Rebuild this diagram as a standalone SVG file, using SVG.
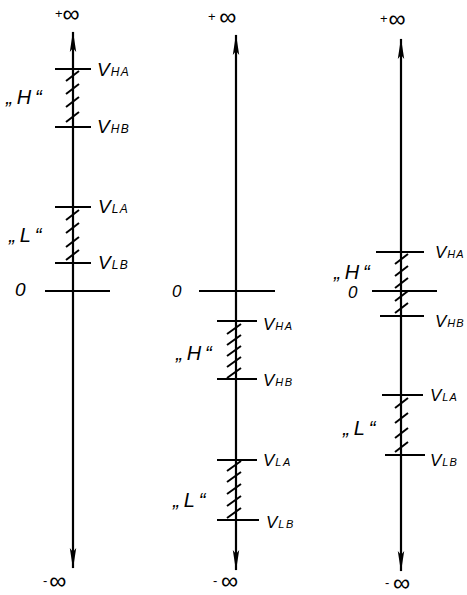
<svg xmlns="http://www.w3.org/2000/svg" width="467" height="595" viewBox="0 0 467 595">
<defs>
<marker id="ah" viewBox="0 0 22 8" refX="20" refY="4" markerWidth="22" markerHeight="8" markerUnits="userSpaceOnUse" orient="auto-start-reverse">
<path d="M0,0.8 L21,4 L0,7.2 L4,4 Z" fill="#000"/>
</marker>
</defs>
<style>
.axis{stroke:#000;stroke-width:2.2;fill:none;marker-start:url(#ah);marker-end:url(#ah)}
.tick{stroke:#000;stroke-width:2;fill:none}
.hatch{stroke:#000;stroke-width:2;fill:none}
text{font-family:"Liberation Sans",Arial,sans-serif;font-style:italic;fill:#000}
.v{font-size:17px}
.vb{font-size:19px}
.sub{font-size:11px;letter-spacing:1.5px}
.subb{font-size:12px;letter-spacing:1.5px}
.subr{font-size:11px;letter-spacing:1px}
.q{font-size:20px;letter-spacing:4px}
.inf{font-size:24px;font-style:normal}
.pl{font-size:13px}
</style>
<rect width="467" height="595" fill="#fff"/>
<g id="connectors">
<line class="axis" x1="73" y1="32" x2="73" y2="568"/>
<line class="axis" x1="236" y1="35" x2="236" y2="570"/>
<line class="axis" x1="401" y1="39" x2="401" y2="571"/>
</g>
<g id="left">
<g id="l-inf-top"><text class="inf" x="55" y="22"><tspan class="pl" dy="-4">+</tspan><tspan dy="4">∞</tspan></text></g>
<g id="l-vha"><line class="tick" x1="55" y1="69" x2="91" y2="69"/><text class="vb" x="97" y="76">V<tspan class="subb" dx="1">HA</tspan></text></g>
<g id="l-vhb"><line class="tick" x1="55" y1="127" x2="91" y2="127"/><text class="vb" x="97" y="133">V<tspan class="subb" dx="1">HB</tspan></text></g>
<g id="l-h"><path class="hatch" d="M66,81 L79,71 M66,94 L79,84 M66,107 L79,97 M66,122 L79,112"/><text class="q" x="6" y="104">„H“</text></g>
<g id="l-vla"><line class="tick" x1="55" y1="207" x2="91" y2="207"/><text class="vb" x="98" y="213">V<tspan class="subb" dx="1">LA</tspan></text></g>
<g id="l-vlb"><line class="tick" x1="55" y1="263" x2="91" y2="263"/><text class="vb" x="98" y="269">V<tspan class="subb" dx="1">LB</tspan></text></g>
<g id="l-l"><path class="hatch" d="M66,220 L79,210 M66,233 L79,223 M66,247 L79,237 M66,260 L79,250"/><text class="q" x="9" y="242">„L“</text></g>
<g id="l-zero"><line class="tick" x1="45" y1="291" x2="110" y2="291" stroke-width="3"/><text class="vb" x="15" y="296">0</text></g>
<g id="l-inf-bot"><text class="inf" x="43" y="589"><tspan class="pl" dy="-4">-</tspan><tspan dx="2" dy="4">∞</tspan></text></g>
</g>
<g id="middle">
<g id="m-inf-top"><text class="inf" x="208" y="25"><tspan class="pl" dy="-4">+ </tspan><tspan dy="4">∞</tspan></text></g>
<g id="m-zero"><line class="tick" x1="199" y1="291" x2="275" y2="291" stroke-width="1.5"/><text class="v" x="172" y="297">0</text></g>
<g id="m-vha"><line class="tick" x1="217" y1="321" x2="257" y2="321"/><text class="v" x="263" y="330">V<tspan class="sub" dx="1">HA</tspan></text></g>
<g id="m-vhb"><line class="tick" x1="217" y1="379" x2="257" y2="379"/><text class="v" x="263" y="386">V<tspan class="sub" dx="1">HB</tspan></text></g>
<g id="m-h"><path class="hatch" d="M227,334 L241,324 M227,345 L241,335 M227,356 L241,346 M227,367 L241,357 M227,378 L241,368"/><text class="q" x="176" y="360">„H“</text></g>
<g id="m-vla"><line class="tick" x1="217" y1="460" x2="257" y2="460"/><text class="v" x="263" y="466">V<tspan class="sub" dx="1">LA</tspan></text></g>
<g id="m-vlb"><line class="tick" x1="217" y1="520" x2="259" y2="520"/><text class="v" x="266" y="528">V<tspan class="sub" dx="1">LB</tspan></text></g>
<g id="m-l"><path class="hatch" d="M227,471 L241,461 M227,482 L241,472 M227,494 L241,484 M227,506 L241,496 M227,518 L241,508"/><text class="q" x="173" y="507">„L“</text></g>
<g id="m-inf-bot"><text class="inf" x="213" y="589"><tspan class="pl" dy="-4">- </tspan><tspan dy="4">∞</tspan></text></g>
</g>
<g id="right">
<g id="r-inf-top"><text class="inf" x="380" y="27"><tspan class="pl" dy="-4">+</tspan><tspan dx="1" dy="4">∞</tspan></text></g>
<g id="r-vha"><line class="tick" x1="376" y1="252" x2="424" y2="252"/><text class="v" x="435" y="258">V<tspan class="subr" dx="1">HA</tspan></text></g>
<g id="r-zero"><line class="tick" x1="372" y1="291" x2="437" y2="291"/><text class="v" x="348" y="298" font-size="15">0</text></g>
<g id="r-vhb"><line class="tick" x1="380" y1="316" x2="424" y2="316"/><text class="v" x="435" y="327">V<tspan class="subr" dx="1">HB</tspan></text></g>
<g id="r-h"><path class="hatch" d="M395,264 L408,254 M395,276 L408,266 M395,288 L408,278 M395,301 L408,291 M395,313 L408,303"/><text class="q" x="334" y="279">„H“</text></g>
<g id="r-vla"><line class="tick" x1="382" y1="395" x2="423" y2="395"/><text class="v" x="430" y="401">V<tspan class="subr" dx="1">LA</tspan></text></g>
<g id="r-vlb"><line class="tick" x1="385" y1="455" x2="425" y2="455"/><text class="v" x="430" y="466">V<tspan class="subr" dx="1">LB</tspan></text></g>
<g id="r-l"><path class="hatch" d="M395,408 L408,398 M395,423 L408,413 M395,438 L408,428 M395,452 L408,442"/><text class="q" x="343" y="435">„L“</text></g>
<g id="r-inf-bot"><text class="inf" x="385" y="591"><tspan class="pl" dy="-4">- </tspan><tspan dy="4">∞</tspan></text></g>
</g>
</svg>
